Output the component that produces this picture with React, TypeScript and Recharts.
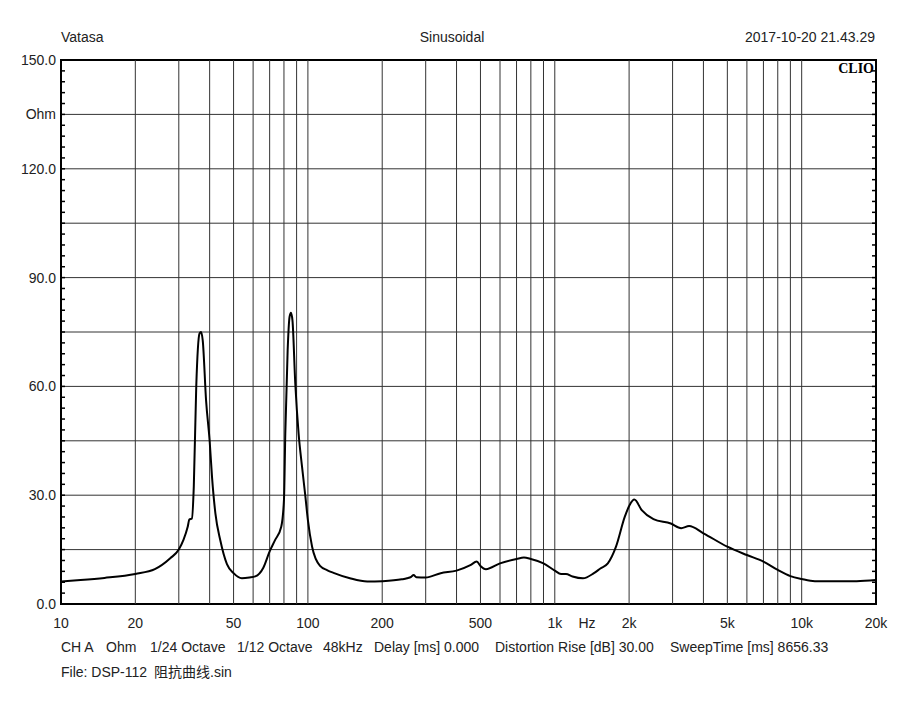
import React from 'react';
import { LineChart, Line, XAxis, YAxis, CartesianGrid, ReferenceLine, ReferenceArea } from 'recharts';

// impedance sweep
const freqHz = [
  10, 12, 15, 20, 24, 27.7, 30, 31.3, 32.6, 33.1, 33.9, 34.5, 35.3, 36.4, 36.9, 37.5, 38.7, 40, 40.9, 42.2,
  44.2, 47, 50, 54, 58, 61.2, 66, 70, 73.6, 78, 80, 81, 82.8, 84.3, 85.4, 86.6, 88.9, 91.7, 94.7, 97.7,
  100, 104, 112, 120, 127, 148, 174, 200, 240, 252, 262, 268, 275, 300, 345, 400, 455, 483, 500, 526,
  600, 700, 750, 800, 900, 1000, 1060, 1110, 1180, 1300, 1440, 1530, 1640, 1770, 1920, 2010, 2100, 2250, 2510, 2950,
  3250, 3500, 4000, 5000, 6000, 7000, 8000, 9000, 10000, 11300, 14000, 16700, 20000,
];
const impedance = [
  6.2, 6.6, 7.2, 8.3, 9.6, 12.6, 15, 17.6, 21.3, 23.3, 23.6, 32.3, 59.9, 74.6, 75, 72.7, 56, 45, 35, 25,
  17.5, 11, 8.5, 7.1, 7.3, 7.6, 10.0, 14.5, 17.6, 21.3, 28.7, 47, 70, 79.2, 80.3, 78.2, 60.8, 47, 37.8, 29.6,
  23.1, 15.8, 10.5, 9.3, 8.6, 7.1, 6.2, 6.3, 6.8, 7.1, 7.5, 8.0, 7.4, 7.3, 8.5, 9.2, 10.7, 11.7, 10.5, 9.6,
  11.2, 12.4, 12.8, 12.4, 11.2, 9.2, 8.3, 8.3, 7.6, 7.1, 8.5, 9.8, 11.2, 15.8, 24, 27.3, 28.8, 25.9, 23.4, 22.2,
  20.9, 21.5, 19.5, 15.8, 13.5, 11.7, 9.4, 7.7, 6.9, 6.3, 6.3, 6.3, 6.6,
];

const xTicks = [10, 20, 50, 100, 200, 500, 1000, 1350, 2000, 5000, 10000, 20000];
const xTickLabels = ['10', '20', '50', '100', '200', '500', '1k', 'Hz', '2k', '5k', '10k', '20k'];
const xGrid = [20, 30, 40, 50, 60, 70, 80, 90, 100, 200, 300, 400, 500, 600, 700, 800, 900, 1000, 2000, 3000, 4000, 5000, 6000, 7000, 8000, 9000, 10000];

const yTicks = [0, 15, 30, 45, 60, 75, 90, 105, 120, 135, 150];
const yTickLabels = ['0.0', '', '30.0', '', '60.0', '', '90.0', '', '120.0', 'Ohm', '150.0'];
const yMinor = [3, 6, 9, 12, 18, 21, 24, 27, 33, 36, 39, 42, 48, 51, 54, 57, 63, 66, 69, 72, 78, 81, 84, 87, 93, 96, 99, 102, 108, 111, 114, 117, 123, 126, 129, 132, 138, 141, 144, 147];

const data = freqHz.map((f, i) => ({ f, z: impedance[i] }));

const FONT = "Arial, 'Liberation Sans', 'Noto Sans CJK SC', sans-serif";
const txt = { fontFamily: FONT, fontSize: 14, fill: '#222' };

// short inward ticks on both plot edges
const MinorTick = (p: any) => (
  <g>
    <line x1={p.x1} x2={p.x1 + 4} y1={p.y1} y2={p.y1} stroke="#000" strokeWidth={1.5} />
    <line x1={p.x2 - 4} x2={p.x2} y1={p.y2} y2={p.y2} stroke="#000" strokeWidth={1.5} />
  </g>
);

export default function App() {
  return (
    <div style={{ position: 'absolute', left: 0, top: 0, width: 908, height: 711, background: '#fff' }}>
      <LineChart width={908} height={711} data={data} margin={{ top: 60, right: 32, left: 6, bottom: 77 }}>
        <CartesianGrid horizontal vertical={false} stroke="#333" strokeWidth={1} />
        {xGrid.map((f) => (
          <ReferenceLine key={f} x={f} stroke="#333" strokeWidth={1} />
        ))}
        {yMinor.map((v) => (
          <ReferenceLine key={'m' + v} y={v} shape={MinorTick} />
        ))}
        {yTicks.map((v) => (
          <ReferenceLine key={'M' + v} y={v} shape={MinorTick} />
        ))}
        <XAxis
          dataKey="f"
          type="number"
          scale="log"
          domain={[10, 20000]}
          allowDataOverflow
          ticks={xTicks}
          tickFormatter={(v) => xTickLabels[xTicks.indexOf(v)] ?? ''}
          tick={txt}
          tickLine={false}
          axisLine={false}
          tickSize={0}
          tickMargin={14}
          height={30}
          interval={0}
        />
        <YAxis
          type="number"
          domain={[0, 150]}
          ticks={yTicks}
          tickFormatter={(v) => yTickLabels[yTicks.indexOf(v)] ?? ''}
          tick={txt}
          tickLine={false}
          axisLine={false}
          tickSize={0}
          tickMargin={5}
          width={55}
          interval={0}
        />
        <ReferenceArea x1={10} x2={20000} y1={0} y2={150} fill="none" stroke="#000" strokeWidth={2} />
        <Line
          dataKey="z"
          type="monotone"
          stroke="#000"
          strokeWidth={2}
          dot={false}
          isAnimationActive={false}
        />
      </LineChart>
      <svg width={908} height={711} style={{ position: 'absolute', left: 0, top: 0, pointerEvents: 'none' }}>
        <text x={61} y={42} {...txt}>Vatasa</text>
        <text x={452} y={42} textAnchor="middle" {...txt}>Sinusoidal</text>
        <text x={875} y={42} textAnchor="end" {...txt}>2017-10-20 21.43.29</text>
        <text x={874} y={73} textAnchor="end" fontFamily="'Liberation Serif', 'DejaVu Serif', serif" fontWeight="bold" fontSize={14} fill="#000">
          CLIO
        </text>
        <text x={61} y={652} {...txt}>CH A</text>
        <text x={106} y={652} {...txt}>Ohm</text>
        <text x={150} y={652} {...txt}>1/24 Octave</text>
        <text x={237} y={652} {...txt}>1/12 Octave</text>
        <text x={323} y={652} {...txt}>48kHz</text>
        <text x={374} y={652} {...txt}>Delay [ms] 0.000</text>
        <text x={495} y={652} {...txt}>Distortion Rise [dB] 30.00</text>
        <text x={670} y={652} {...txt}>SweepTime [ms] 8656.33</text>
        <text x={61} y={677} {...txt}>File: DSP-112</text>
        <text x={154} y={677} {...txt}>阻抗曲线.sin</text>
      </svg>
    </div>
  );
}
